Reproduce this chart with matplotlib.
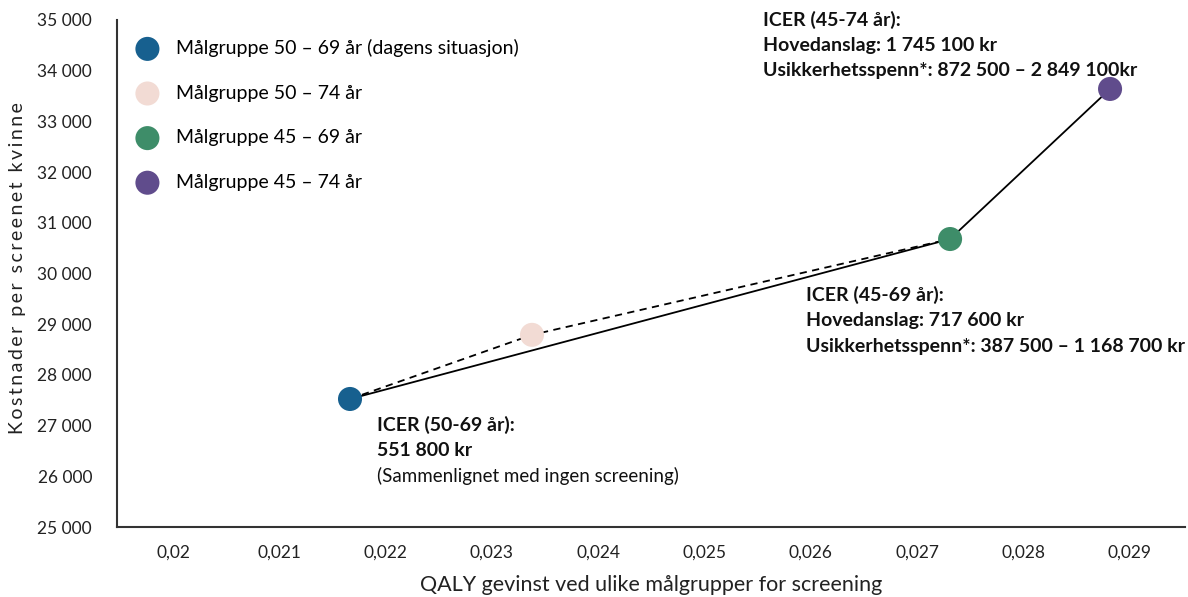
import matplotlib
matplotlib.use("Agg")
import matplotlib.pyplot as plt
from matplotlib.ticker import FuncFormatter

# QALY gain and cost per screened woman for each target group
groups = ["Målgruppe 50 – 69 år (dagens situasjon)", "Målgruppe 50 – 74 år",
          "Målgruppe 45 – 69 år", "Målgruppe 45 – 74 år"]
qaly = [0.021665, 0.023377, 0.02731, 0.028815]
cost = [27525, 28790, 30680, 33640]
colors = ["#17608f", "#f2dbd4", "#3e8d69", "#604c8c"]

x_ticks = [0.020, 0.021, 0.022, 0.023, 0.024, 0.025, 0.026, 0.027, 0.028, 0.029]
y_ticks = [25000, 26000, 27000, 28000, 29000, 30000, 31000, 32000, 33000, 34000, 35000]

# Efficiency frontier (solid) and path through 50-74 (dashed)
frontier = [0, 2, 3]
dashed_path = [0, 1, 2]

annotations = [
    (0, ["ICER (50-69 år):", "551 800 kr", "(Sammenlignet med ingen screening)"], [True, True, False]),
    (2, ["ICER (45-69 år):", "Hovedanslag: 717 600 kr",
         "Usikkerhetsspenn*: 387 500 – 1 168 700 kr"], [True, True, True]),
    (3, ["ICER (45-74 år):", "Hovedanslag: 1 745 100 kr",
         "Usikkerhetsspenn*: 872 500 – 2 849 100kr"], [True, True, True]),
]

plt.rcParams["font.family"] = ["Lato", "DejaVu Sans"]

fig = plt.figure(figsize=(11.88, 5.97), dpi=100)
ax = fig.add_axes([117 / 1188, 1 - 527 / 597, (1185 - 117) / 1188, (527 - 20) / 597])

ax.plot([qaly[i] for i in frontier], [cost[i] for i in frontier],
        color="black", lw=1.3, zorder=2)
ax.plot([qaly[i] for i in dashed_path], [cost[i] for i in dashed_path],
        color="black", lw=1.3, ls=(0, (4, 3)), zorder=2)

for xq, yc, col, lab in zip(qaly, cost, colors, groups):
    ax.scatter(xq, yc, s=300, color=col, zorder=3, label=lab, edgecolors="none")

ax.set_xlim(0.019473, 0.02952)
ax.set_ylim(25000, 35000)
ax.set_xticks(x_ticks)
ax.set_yticks(y_ticks)
ax.xaxis.set_major_formatter(FuncFormatter(lambda v, p: f"{v:.3f}".rstrip("0").replace(".", ",")))
ax.yaxis.set_major_formatter(FuncFormatter(lambda v, p: f"{int(round(v)):,}".replace(",", " ")))
ax.tick_params(axis="both", length=0, labelsize=12.5, colors="#222222")
ax.tick_params(axis="x", pad=13)
ax.tick_params(axis="y", pad=18)

for side in ["top", "right"]:
    ax.spines[side].set_visible(False)
for side in ["left", "bottom"]:
    ax.spines[side].set_color("#333333")
    ax.spines[side].set_linewidth(1.5)

ax.set_xlabel("QALY gevinst ved ulike målgrupper for screening", fontsize=15.5,
              color="#222222", labelpad=10)
ylabel = "\u2009".join("Kostnader per screenet kvinne")
fig.text(18 / 1188, 1 - 268 / 597, ylabel, rotation=90, ha="center", va="center",
         fontsize=14, color="#222222")

leg = ax.legend(loc="upper left", bbox_to_anchor=(0.003, 0.978), frameon=False,
                fontsize=14, labelspacing=1.42, handletextpad=0.45, markerscale=1.0,
                borderaxespad=0)

# Text blocks next to the points (offsets in pixels)
offsets = {0: (27, -26), 2: (-144, -56), 3: (-347, 69)}
for idx, lines, bolds in annotations:
    dx, dy = offsets[idx]
    for k, (line, bold) in enumerate(zip(lines, bolds)):
        ax.annotate(line, (qaly[idx], cost[idx]), xytext=(dx, dy - 25.5 * k),
                    textcoords="offset pixels", ha="left", va="center",
                    fontsize=14 if bold else 13.5,
                    fontweight="bold" if bold else "normal", color="#111111")

fig.savefig("out.png", dpi=100)
